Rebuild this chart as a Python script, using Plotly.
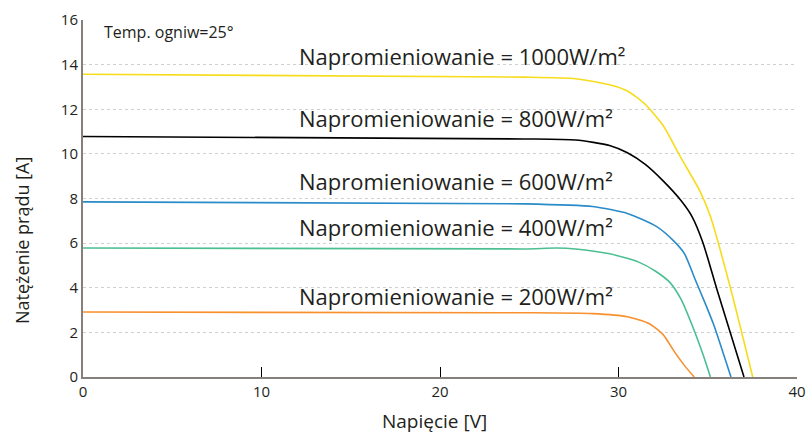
import plotly.graph_objects as go

# ---- data ----
irradiance_labels = ["Napromieniowanie = 1000W/m²", "Napromieniowanie = 800W/m²",
                     "Napromieniowanie = 600W/m²", "Napromieniowanie = 400W/m²",
                     "Napromieniowanie = 200W/m²"]

v_1000 = [0, 24.7, 27.6, 29.5, 30.5, 31.5, 32.5, 33.5, 34.55, 35.15, 36.24, 37.52]
i_1000 = [13.57, 13.44, 13.37, 13.10, 12.82, 12.22, 11.27, 9.82, 8.35, 7.19, 4.09, 0]

v_800 = [0, 24.7, 27.6, 29.5, 30.5, 31.5, 32.5, 33.5, 34.12, 34.73, 35.52, 37.03]
i_800 = [10.78, 10.67, 10.62, 10.38, 10.05, 9.53, 8.79, 7.91, 7.19, 6.02, 3.91, 0]

v_600 = [0, 24.7, 28.55, 30.5, 32.12, 33.09, 33.70, 34.30, 34.91, 35.33, 36.30]
i_600 = [7.85, 7.76, 7.64, 7.33, 6.75, 6.10, 5.52, 4.36, 3.20, 2.35, 0]

v_400 = [0, 24.7, 26.5, 27.6, 29.5, 31.1, 32.1, 32.9, 33.5, 34.12, 34.73, 35.15]
i_400 = [5.78, 5.74, 5.78, 5.74, 5.52, 5.16, 4.73, 4.22, 3.49, 2.33, 1.02, 0]

v_200 = [0, 24.7, 28.55, 30.5, 31.7, 32.5, 33.1, 33.7, 34.24]
i_200 = [2.91, 2.88, 2.84, 2.70, 2.40, 1.90, 1.17, 0.51, 0]

x_ticks = [0, 10, 20, 30, 40]
y_ticks = [0, 2, 4, 6, 8, 10, 12, 14, 16]

series = [
    (v_1000, i_1000, "#f7dc1c"),
    (v_800, i_800, "#000000"),
    (v_600, i_600, "#2a8bc9"),
    (v_400, i_400, "#4cbf92"),
    (v_200, i_200, "#f7902d"),
]

FONT = "Open Sans"
TXT = "#231f20"

fig = go.Figure()
for (v, i, c), name in zip(series, irradiance_labels):
    fig.add_trace(go.Scatter(x=v, y=i, mode="lines", name=name,
                             line=dict(color=c, width=1.6, shape="spline", smoothing=0.6),
                             showlegend=False, hoverinfo="x+y"))

label_y = [14.39, 11.63, 8.78, 6.72, 3.62]
for txt, ly in zip(irradiance_labels, label_y):
    fig.add_annotation(x=12.0, y=ly, text=txt, showarrow=False, xanchor="left",
                       yanchor="middle", font=dict(family=FONT, size=22, color=TXT))

fig.add_annotation(x=0.026, y=0.965, xref="paper", yref="paper", text="Temp. ogniw=25°",
                   showarrow=False, xanchor="left", yanchor="middle",
                   font=dict(family=FONT, size=16, color=TXT))

# axis titles
fig.add_annotation(x=0.4916, y=0, xref="paper", yref="paper", text="Napięcie [V]",
                   showarrow=False, xanchor="center", yanchor="middle", yshift=-44,
                   font=dict(family=FONT, size=19, color=TXT))
fig.add_annotation(x=0, y=0.381, xref="paper", yref="paper", text="Natężenie prądu [A]",
                   showarrow=False, xanchor="center", yanchor="middle", xshift=-61,
                   textangle=-90, font=dict(family=FONT, size=18, color=TXT))

fig.update_layout(
    width=806, height=434,
    margin=dict(l=83, r=9, t=20, b=57),
    plot_bgcolor="white", paper_bgcolor="white",
    font=dict(family=FONT, color=TXT),
)
fig.update_xaxes(
    range=[0, 40], tickvals=x_ticks, ticks="", showgrid=False, zeroline=False,
    showline=True, linecolor="#85807c", linewidth=2,
    tickfont=dict(size=15, color=TXT),
    minor=dict(tickvals=[10, 20, 30], ticks="inside", ticklen=10, tickcolor="#000000",
               tickwidth=1, showgrid=False),
    automargin=False,
)
fig.update_yaxes(
    range=[0, 16], tickvals=y_ticks, ticks="", showgrid=False, zeroline=False,
    showline=True, linecolor="#85807c", linewidth=2,
    tickfont=dict(size=15, color=TXT),
    minor=dict(tickvals=[2, 4, 6, 8, 10, 12, 14], ticks="", showgrid=True,
               gridcolor="#cfcfcf", griddash="dot", gridwidth=1),
    automargin=False,
)

fig.write_html(
    "out.html",
    config={"displayModeBar": False},
    post_script="document.body.style.margin='0';document.body.style.overflow='hidden';",
)
